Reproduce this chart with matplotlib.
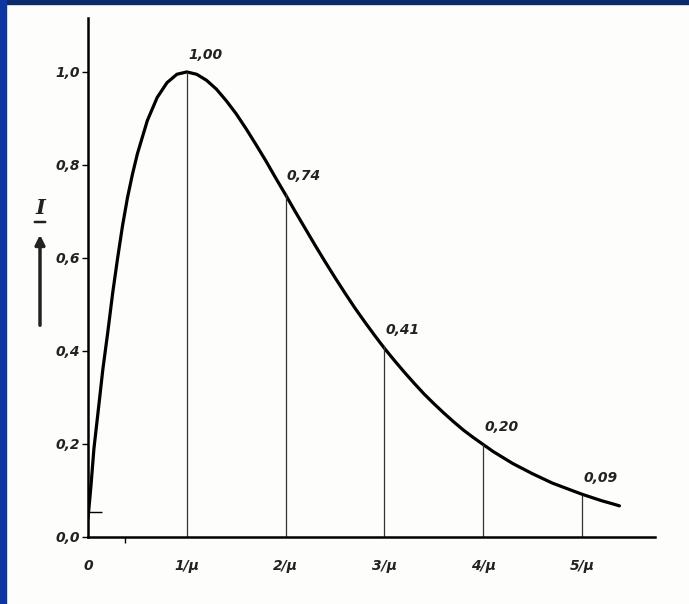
import matplotlib.pyplot as plt
from matplotlib.patches import Rectangle

# curve (x in units of 1/mu)
x = [0.0, 0.03, 0.06, 0.1, 0.15, 0.2, 0.25, 0.3, 0.35, 0.4, 0.45, 0.5, 0.6, 0.7,
     0.8, 0.9, 1.0, 1.1, 1.2, 1.3, 1.4, 1.5, 1.6, 1.7, 1.8, 1.9, 2.0, 2.1, 2.2,
     2.3, 2.4, 2.5, 2.6, 2.7, 2.8, 2.9, 3.0, 3.1, 3.2, 3.3, 3.4, 3.5, 3.6, 3.7,
     3.8, 3.9, 4.0, 4.1, 4.2, 4.3, 4.4, 4.5, 4.6, 4.7, 4.8, 4.9, 5.0, 5.1, 5.2,
     5.3, 5.38]
I = [0.04, 0.11, 0.19, 0.265, 0.36, 0.44, 0.525, 0.60, 0.67, 0.73, 0.78, 0.824,
     0.895, 0.945, 0.977, 0.995, 1.00, 0.995, 0.982, 0.963, 0.938, 0.91, 0.878,
     0.844, 0.809, 0.772, 0.736, 0.699, 0.663, 0.627, 0.592, 0.558, 0.525,
     0.493, 0.463, 0.434, 0.406, 0.38, 0.355, 0.331, 0.308, 0.287, 0.267,
     0.248, 0.23, 0.214, 0.199, 0.184, 0.171, 0.158, 0.147, 0.136, 0.126,
     0.116, 0.108, 0.10, 0.092, 0.085, 0.078, 0.072, 0.067]

mark_x = [1, 2, 3, 4, 5]
mark_val = [1.00, 0.74, 0.41, 0.20, 0.09]
mark_txt = ['1,00', '0,74', '0,41', '0,20', '0,09']

xticks = [0, 1, 2, 3, 4, 5]
xlabels = ['0', '1/\u03bc', '2/\u03bc', '3/\u03bc', '4/\u03bc', '5/\u03bc']
yticks = [0.0, 0.2, 0.4, 0.6, 0.8, 1.0]
ylabels = ['0,0', '0,2', '0,4', '0,6', '0,8', '1,0']

W, H = 689, 604
fig = plt.figure(figsize=(W / 100, H / 100), dpi=100, facecolor='#fdfefb')
fig.patches.append(Rectangle((0, 1 - 4 / H), 1, 4 / H, transform=fig.transFigure,
                             color='#0b2a6b', zorder=10))
fig.patches.append(Rectangle((0, 0), 6 / W, 1, transform=fig.transFigure,
                             color='#0d36a3', zorder=10))

ax = fig.add_axes([88 / W, 67 / H, 567 / W, 519 / H])
ax.set_facecolor('none')
ax.set_xlim(0, 5.74)
ax.set_ylim(0, 1.116)

ax.plot(x, I, color='black', lw=2.3, solid_capstyle='round',
        solid_joinstyle='round')
ax.vlines(mark_x, 0, mark_val, color='#333333', lw=0.9)

for mx, mv, t in zip(mark_x, mark_val, mark_txt):
    ax.annotate(t, (mx, mv), xytext=(1, 7), textcoords='offset points',
                ha='left', va='bottom', fontsize=10, style='italic',
                fontweight='bold', color='#222222')

for side in ['top', 'right']:
    ax.spines[side].set_visible(False)
for side in ['left', 'bottom']:
    ax.spines[side].set_linewidth(1.8)

ax.set_xticks(xticks)
ax.set_xticklabels(xlabels, style='italic', fontweight='bold', fontsize=10,
                   color='#222222')
ax.tick_params(axis='x', length=0, pad=16)
ax.set_yticks(yticks)
ax.set_yticklabels(ylabels, style='italic', fontweight='bold', fontsize=10,
                   color='#222222')
ax.tick_params(axis='y', length=4, width=1, direction='out', pad=2)

# small extra marks seen on the axes
ax.set_xticks([0.37], minor=True)
ax.set_yticks([0.054], minor=True)
ax.tick_params(axis='x', which='minor', length=4, width=1, direction='out')
ax.tick_params(axis='y', which='minor', length=10, width=1, direction='in')

# axis name with upward arrow
fig.text(40 / W, 1 - 208 / H, 'I', fontsize=15, style='italic',
         fontweight='bold', family='DejaVu Serif', ha='center', va='center',
         color='#222222')
ax.annotate('', xy=(40 / W, 1 - 232 / H), xytext=(40 / W, 1 - 328 / H),
            xycoords='figure fraction', textcoords='figure fraction',
            arrowprops=dict(arrowstyle='-|>', lw=2.5, color='#222222',
                            mutation_scale=14))
ax.annotate('', xy=(32 / W, 1 - 222 / H), xytext=(48 / W, 1 - 222 / H),
            xycoords='figure fraction', textcoords='figure fraction',
            arrowprops=dict(arrowstyle='-', lw=1.8, color='#222222'))

plt.savefig('out.png', dpi=100, facecolor=fig.get_facecolor())
